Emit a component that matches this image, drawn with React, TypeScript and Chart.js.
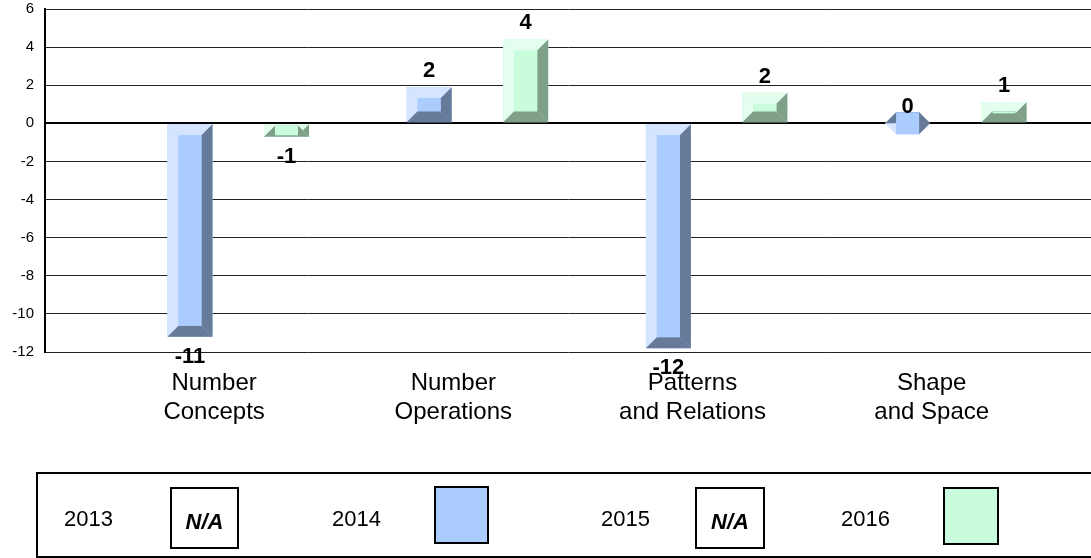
import React, { useEffect, useRef } from 'react';
import { Chart, registerables } from 'chart.js';

Chart.register(...registerables);

// ---- data ----
const CATEGORIES: string[][] = [
  ['Number', 'Concepts'],
  ['Number', 'Operations'],
  ['Patterns', 'and Relations'],
  ['Shape', 'and Space'],
];
const YEARS: string[] = ['2013', '2014', '2015', '2016'];
const VALUES_2013: (number | null)[] = [null, null, null, null];
const VALUES_2014: (number | null)[] = [-11.2, 1.9, -11.8, 0];
const VALUES_2015: (number | null)[] = [null, null, null, null];
const VALUES_2016: (number | null)[] = [-0.7, 4.4, 1.6, 1.1];

// ---- styles ----
const FONT = '"Liberation Sans", Arial, sans-serif';
// [front, light bevel, dark bevel] per series (null = not available)
const SERIES_STYLE: (string[] | null)[] = [
  null,
  ['#AACCFF', '#D5E5FF', '#667B99'],
  null,
  ['#C8FCDC', '#E3FEEE', '#7F9F89'],
];

const ALL_VALUES = [VALUES_2013, VALUES_2014, VALUES_2015, VALUES_2016];

const bevelPlugin = {
  id: 'bevelBars',
  afterDatasetsDraw(chart: any) {
    const ctx = chart.ctx;
    const B = 11;
    const labels: { x: number; y: number; text: string }[] = [];
    chart.data.datasets.forEach((ds: any, i: number) => {
      const style = SERIES_STYLE[i];
      if (!style) return;
      const meta = chart.getDatasetMeta(i);
      meta.data.forEach((el: any, j: number) => {
        const v = ds.data[j].y;
        if (v === null || v === undefined) return;
        const { x, y, base, width } = el.getProps(['x', 'y', 'base', 'width'], true);
        const x0 = x - width / 2;
        const x1 = x + width / 2;
        const yt = Math.min(y, base);
        const yb = Math.max(y, base);
        const ix0 = x0 + B;
        const ix1 = x1 - B;
        const iyt = yt + B;
        const iyb = yb - B;
        const poly = (pts: number[][], c: string) => {
          ctx.beginPath();
          ctx.moveTo(pts[0][0], pts[0][1]);
          for (let k = 1; k < pts.length; k++) ctx.lineTo(pts[k][0], pts[k][1]);
          ctx.closePath();
          ctx.fillStyle = c;
          ctx.fill();
        };
        ctx.save();
        poly([[x0, yt], [x1, yt], [ix1, iyt], [ix0, iyt]], style[1]);
        poly([[x0, yt], [ix0, iyt], [ix0, iyb], [x0, yb]], style[1]);
        poly([[x1, yt], [x1, yb], [ix1, iyb], [ix1, iyt]], style[2]);
        poly([[x0, yb], [ix0, iyb], [ix1, iyb], [x1, yb]], style[2]);
        ctx.fillStyle = style[0];
        ctx.fillRect(ix0, Math.min(iyt, iyb), ix1 - ix0, Math.abs(iyb - iyt));
        ctx.restore();
        const r = Math.round(v);
        const text = String(r === 0 ? 0 : r);
        if (r >= 0) labels.push({ x, y: yt - 10, text });
        else labels.push({ x, y: yb + 26, text });
      });
    });
    ctx.save();
    ctx.font = 'bold 22px ' + FONT;
    ctx.fillStyle = '#000';
    ctx.textAlign = 'center';
    ctx.textBaseline = 'alphabetic';
    labels.forEach((l) => ctx.fillText(l.text, l.x, l.y));
    ctx.restore();
  },
};

const legendPlugin = {
  id: 'boxLegend',
  afterDraw(chart: any) {
    const ctx = chart.ctx;
    const slots = [
      { tx: 64, bx: 171, by: 488, bw: 67, bh: 60 },
      { tx: 332, bx: 435, by: 487, bw: 53, bh: 56 },
      { tx: 601, bx: 696, by: 488, bw: 68, bh: 60 },
      { tx: 841, bx: 944, by: 488, bw: 54, bh: 56 },
    ];
    ctx.save();
    ctx.strokeStyle = '#000';
    ctx.lineWidth = 2;
    ctx.strokeRect(37, 473, 1100, 84);
    chart.data.datasets.forEach((ds: any, i: number) => {
      const s = slots[i];
      if (!s) return;
      ctx.font = '22px ' + FONT;
      ctx.fillStyle = '#000';
      ctx.textAlign = 'left';
      ctx.textBaseline = 'alphabetic';
      ctx.fillText(ds.label, s.tx, 526);
      const style = SERIES_STYLE[i];
      if (style) {
        ctx.fillStyle = style[0];
        ctx.fillRect(s.bx, s.by, s.bw, s.bh);
      } else {
        ctx.fillStyle = '#fff';
        ctx.fillRect(s.bx, s.by, s.bw, s.bh);
        ctx.font = 'italic bold 22px ' + FONT;
        ctx.fillStyle = '#000';
        ctx.textAlign = 'center';
        ctx.fillText('N/A', s.bx + s.bw / 2, 529);
      }
      ctx.strokeStyle = '#000';
      ctx.lineWidth = 2;
      ctx.strokeRect(s.bx, s.by, s.bw, s.bh);
    });
    ctx.restore();
  },
};

export default function App() {
  const ref = useRef<HTMLCanvasElement>(null);
  useEffect(() => {
    const canvas = ref.current;
    if (!canvas) return;
    const datasets = YEARS.map((year, i) => ({
      label: year,
      data: ALL_VALUES[i].map((v, k) => ({ x: k, y: v })),
      backgroundColor: SERIES_STYLE[i] ? SERIES_STYLE[i]![0] : '#ffffff',
      borderWidth: 0,
      categoryPercentage: 0.807,
      barPercentage: 0.933,
    }));
    const chart = new Chart(canvas, {
      type: 'bar',
      data: { datasets },
      plugins: [bevelPlugin, legendPlugin],
      options: {
        responsive: false,
        animation: false,
        devicePixelRatio: 1,
        layout: { padding: { top: 9, left: 0, right: 0, bottom: 0 } },
        plugins: {
          legend: { display: false },
          tooltip: { enabled: false },
        },
        scales: {
          x: {
            type: 'linear',
            offset: false,
            min: -0.707,
            max: 3.666,
            afterBuildTicks: (s: any) => {
              s.ticks = CATEGORIES.map((_, i) => ({ value: i }));
            },
            afterFit: (s: any) => {
              s.height = 206;
              s.paddingLeft = 0;
              s.paddingRight = 0;
            },
            ticks: {
              callback: (v: any) => CATEGORIES[Math.round(Number(v))] || '',
              font: { family: FONT, size: 24 },
              color: '#000',
              padding: 9,
              autoSkip: false,
              maxRotation: 0,
              includeBounds: false,
            },
            grid: { display: false },
            border: { display: false },
          },
          y: {
            min: -12,
            max: 6,
            afterFit: (s: any) => {
              s.width = 45;
              s.paddingTop = 0;
              s.paddingBottom = 0;
            },
            ticks: {
              stepSize: 2,
              font: { family: FONT, size: 15 },
              color: '#000',
              padding: 11,
            },
            grid: {
              drawTicks: false,
              color: (c: any) => (c.tick && c.tick.value === 0 ? '#000' : '#222'),
              lineWidth: (c: any) => (c.tick && c.tick.value === 0 ? 2 : 1),
            },
            border: { display: true, color: '#000', width: 2 },
          },
        },
      } as any,
    });
    return () => chart.destroy();
  }, []);
  return (
    <div
      style={{
        position: 'absolute',
        left: 0,
        top: 0,
        width: 1091,
        height: 558,
        overflow: 'hidden',
        background: '#fff',
      }}
    >
      <canvas ref={ref} width={1091} height={558} style={{ display: 'block', width: 1091, height: 558 }} />
    </div>
  );
}
